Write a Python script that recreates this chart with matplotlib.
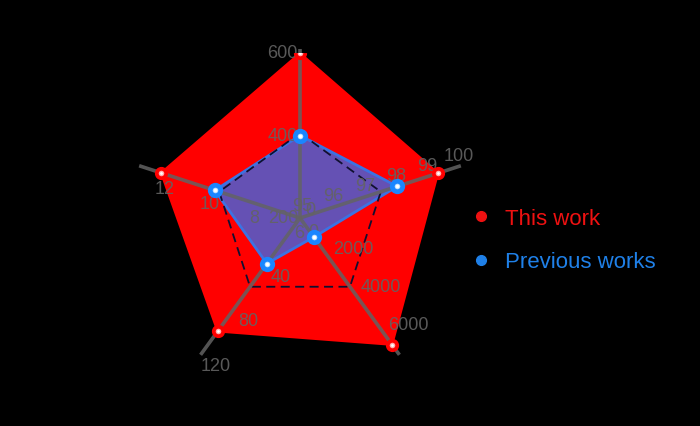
import numpy as np
import matplotlib.pyplot as plt
from matplotlib.lines import Line2D

plt.rcParams['font.family'] = ['Liberation Sans', 'DejaVu Sans']

# radar axes, clockwise starting at the top
axis_lo = [200, 95, 0, 0, 6]
axis_hi = [600, 100, 7000, 120, 13]
axis_ticks = [
    [200, 400, 600],
    [95, 96, 97, 98, 99, 100],
    [0, 2000, 4000, 6000],
    [0, 40, 80, 120],
    [6, 8, 10, 12],
]
this_work = [600, 99.4, 6650, 102, 12.2]
previous_works = [400, 98.1, 1000, 41, 9.8]
series_names = ['This work', 'Previous works']

# label placement per axis (pixels)
label_ha = ['right', 'center', 'left', 'center', 'center']
label_off = [(-2, 0), (2, 12), (5, 8), (13, -14), (-1, -14.5)]
ring_frac = 0.515

RED = '#ff0000'
BLUE_FILL = '#6551b4'
BLUE_EDGE = '#3c72e2'
BLUE_DOT = '#1a86ff'
GREY = '#636363'


def to_frac(vals):
    return [(v - lo) / (hi - lo) for v, lo, hi in zip(vals, axis_lo, axis_hi)]


n = len(axis_lo)
theta = np.arange(n) * 2 * np.pi / n
theta_closed = np.append(theta, theta[0])

fig = plt.figure(figsize=(7, 4.27), dpi=100, facecolor='black')
R = 165
cx, cy = 300, 427 - 219
ax = fig.add_axes([(cx - R) / 700, (cy - R) / 427, 2 * R / 700, 2 * R / 427],
                  projection='polar')
ax.set_theta_zero_location('N')
ax.set_theta_direction(-1)
ax.set_ylim(0, 1)
ax.axis('off')

red_r = to_frac(this_work)
blue_r = to_frac(previous_works)

ax.fill(theta_closed, red_r + red_r[:1], color=RED, lw=1.5, zorder=1)
ax.fill(theta_closed, blue_r + blue_r[:1], facecolor=BLUE_FILL,
        edgecolor=BLUE_EDGE, lw=2, zorder=2)

# dashed middle ring
ax.plot(theta_closed, [ring_frac] * (n + 1), color='#101030', lw=1.3,
        ls=(0, (5, 3)), zorder=3)

# spokes and tick labels
for i in range(n):
    ax.plot([theta[i], theta[i]], [0, 1.025], color=GREY, alpha=0.85, lw=2.6,
            solid_capstyle='butt', zorder=4, clip_on=False)
    for t in axis_ticks[i]:
        f = (t - axis_lo[i]) / (axis_hi[i] - axis_lo[i])
        ax.annotate(str(t), xy=(theta[i], f), xytext=label_off[i],
                    textcoords='offset pixels', ha=label_ha[i], va='center',
                    fontsize=13, color=GREY, alpha=0.9, zorder=5,
                    annotation_clip=False)

# markers
ax.plot(theta, red_r, 'o', color=RED, ms=8.5, zorder=6)
ax.plot(theta, red_r, 'o', color='#ffb0b0', ms=4, mew=0, zorder=7)
ax.plot(theta, red_r, 'o', color='white', ms=2, mew=0, zorder=8)
ax.plot(theta, blue_r, 'o', color=BLUE_DOT, ms=11, mew=0, zorder=6)
ax.plot(theta, blue_r, 'o', color='#bfe0ff', ms=4, mew=0, zorder=7)
ax.plot(theta, blue_r, 'o', color='white', ms=2.5, mew=0, zorder=8)

handles = [
    Line2D([], [], marker='o', ls='none', color='#ee1111', ms=7),
    Line2D([], [], marker='o', ls='none', color='#1f80e8', ms=7),
]
fig.legend(handles, series_names, loc='center left',
           bbox_to_anchor=(472 / 700, 1 - 241 / 427), frameon=False,
           fontsize=16, handlelength=0.8, handletextpad=0.7,
           labelspacing=1.03, borderpad=0, borderaxespad=0,
           labelcolor=['#ee1111', '#1f80e8'])

fig.savefig('out.png', dpi=100, facecolor='black')
